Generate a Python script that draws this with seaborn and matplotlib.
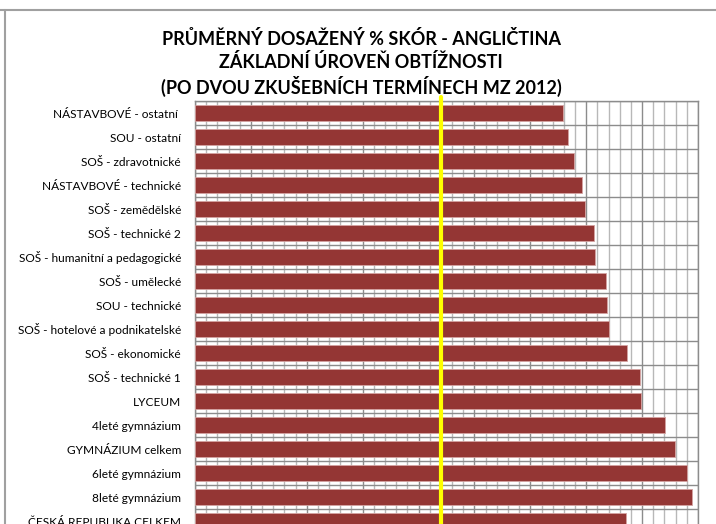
import numpy as np
import pandas as pd
import seaborn as sns
import matplotlib.pyplot as plt
from matplotlib.lines import Line2D

# categories from top to bottom
skoly = [
    "NÁSTAVBOVÉ - ostatní ",
    "SOU - ostatní",
    "SOŠ - zdravotnické",
    "NÁSTAVBOVÉ - technické",
    "SOŠ - zemědělské",
    "SOŠ - technické 2",
    "SOŠ - humanitní a pedagogické",
    "SOŠ - umělecké",
    "SOU - technické",
    "SOŠ - hotelové a podnikatelské",
    "SOŠ - ekonomické",
    "SOŠ - technické 1",
    "LYCEUM",
    "4leté gymnázium",
    "GYMNÁZIUM celkem",
    "6leté gymnázium",
    "8leté gymnázium",
    "ČESKÁ REPUBLIKA CELKEM",
]
skore = [65.8, 66.7, 67.9, 69.3, 69.8, 71.4, 71.5, 73.6, 73.8, 74.0,
         77.3, 79.6, 79.8, 84.1, 85.9, 88.0, 88.9, 77.1]
hranice = 44  # hranice uspesnosti

df = pd.DataFrame({"skola": skoly, "skore": skore})

sns.set_style("white")
plt.rcParams['font.family'] = ['Lato', 'DejaVu Sans']

W, H = 716, 524
fig = plt.figure(figsize=(W / 100, H / 100), dpi=100)
fig.patch.set_facecolor("white")

# plot area: left 195px, top 101px, rows of 24px, runs below the picture edge
ax = fig.add_axes([195 / W, (H - 533) / H, 503 / W, 432 / H])

sns.barplot(data=df, x="skore", y="skola", orient="h", color="#943634",
            saturation=1, width=0.67, edgecolor="#d4a3a2", linewidth=0.6,
            ax=ax, zorder=3)

ax.set_xlim(0, 90)
ax.set_xticks(np.arange(0, 91, 10))
ax.set_xticks(np.arange(0, 91, 2), minor=True)
ax.set_yticks(np.arange(-0.5, len(skoly), 1), minor=True)
ax.grid(False)
ax.grid(which="major", axis="x", color="#8c8c8c", lw=1, zorder=0)
ax.grid(which="minor", axis="x", color="#b8b8b8", lw=1, zorder=0)
ax.grid(which="minor", axis="y", color="#8c8c8c", lw=1, zorder=0)
ax.set_axisbelow(True)

ax.set_xlabel("")
ax.set_ylabel("")
ax.set_xticklabels([])
ax.tick_params(axis="both", which="both", length=0)
ax.tick_params(axis="y", labelsize=8.6, pad=10, labelcolor="black")
for s in ax.spines.values():
    s.set_color("#8c8c8c")
    s.set_linewidth(1)

ax.axvline(hranice, ymin=0, ymax=1 + 4 / 432, color="#ffff00", lw=3,
           clip_on=False, zorder=5)

fig.text(361 / W, 1 - 30 / H,
         "PRŮMĚRNÝ DOSAŽENÝ % SKÓR - ANGLIČTINA\n"
         "ZÁKLADNÍ ÚROVEŇ OBTÍŽNOSTI\n"
         "(PO DVOU ZKUŠEBNÍCH TERMÍNECH MZ 2012)",
         ha="center", va="top", fontsize=13, fontweight="bold",
         linespacing=1.3, color="black")

# chart frame
fig.add_artist(Line2D([0, 1], [1 - 10 / H, 1 - 10 / H], color="#a0a0a0", lw=1.5))
fig.add_artist(Line2D([5 / W, 5 / W], [0, 1 - 10 / H], color="#a0a0a0", lw=1.5))

fig.savefig("out.png", dpi=100, facecolor="white")
